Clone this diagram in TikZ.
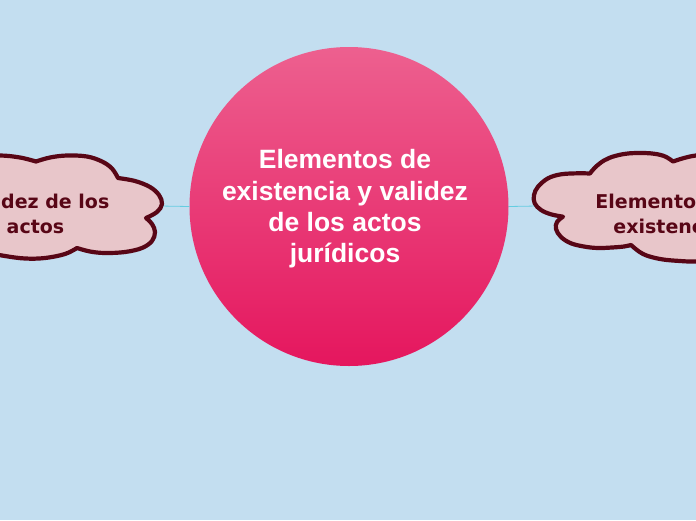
\documentclass[tikz,border=0pt]{standalone}
\usepackage{fontspec}
\setmainfont{Liberation Sans}
\newfontfamily\cloudfont{DejaVu Sans}
\usepackage{tikz}
\usetikzlibrary{calc}
\definecolor{bgblue}{RGB}{195,222,240}
\definecolor{hubtop}{RGB}{237,96,143}
\definecolor{hubbot}{RGB}{229,22,94}
\definecolor{cloudfill}{RGB}{232,198,202}
\definecolor{cloudline}{RGB}{88,6,22}
\definecolor{linkcyan}{RGB}{100,205,225}
\tikzset{
  hub/.style={circle, minimum size=319pt, inner sep=0pt, top color=hubtop, bottom color=hubbot},
  hubtext/.style={text=white, align=center, font=\bfseries\fontsize{26.5}{31.3}\selectfont},
  cloudbox/.style={fill=cloudfill, draw=cloudline, line width=4.2pt, line join=round},
  cloudtext/.style={text=cloudline, align=center, font=\cloudfont\bfseries\fontsize{19}{25}\selectfont},
  link/.style={linkcyan, line width=0.8pt},
  puff/.style={smooth, tension=0.6}
}

\begin{document}
% y runs downwards: coordinates are pixels of the 696x520 frame
\begin{tikzpicture}[x=1pt,y=-1pt]
\fill[bgblue] (0,0) rectangle (696,520);
\useasboundingbox (0,0) rectangle (696,520);
\clip (0,0) rectangle (696,520);

\node[hub] (hub) at (349,206.5) {};
\node[hubtext] (title) at (345,209) {Elementos de\\existencia y validez\\de los actos\\jurídicos};
\coordinate (leftend) at (160,206);
\coordinate (rightend) at (537,206);
\foreach \side/\tip in {west/leftend, east/rightend} {
  \draw[link] (hub.\side) -- (\tip);
}

% left cloud
\draw[cloudbox] plot[puff] coordinates {(-45,163) (-25,157) (0,155.5) (20,157.5) (36,161.5)}
  -- plot[puff] coordinates {(36,161.5) (50,157.5) (67,155.5) (87,156.5) (102,161.5) (112,168.5) (118,178)}
  -- plot[puff] coordinates {(118,178) (135,181) (150,187) (159,195) (162,204) (157,212) (146,218)}
  -- plot[puff] coordinates {(146,218) (152,224) (155,232) (152,241) (142,248) (125,252) (105,253) (90,251.5) (77,248)}
  -- plot[puff] coordinates {(77,248) (65,254) (45,258) (25,258.5) (5,256) (-15,252) (-40,245)}
  -- (-90,205) -- cycle;
\node[cloudtext] (validez) at (35.5,213.5) {Validez de los\\actos};

% right cloud
\draw[cloudbox] plot[puff] coordinates {(590,173.5) (595,167.5) (604,160.5) (615,156) (630,153.3) (650,153.3) (664,156) (673,161.5)}
  -- plot[puff] coordinates {(673,161.5) (684,158) (696,155.5) (715,154) (740,158)}
  -- (780,205) -- (740,256)
  -- plot[puff] coordinates {(740,256) (720,260) (696,261.5) (680,261) (660,259) (643,254) (631,245)}
  -- plot[puff] coordinates {(631,245) (624,246.5) (612,247.5) (598,248) (585,246.7) (571,243.3) (561,237) (556,229) (557,222) (563,216.7)}
  -- plot[puff] coordinates {(563,216.7) (551,214.3) (541,210) (534.7,203.3) (534,195) (538,186.7) (548,178.3) (561,174.3) (578,173.3) (590,173.5)}
  -- cycle;
\node[cloudtext] (existencia) at (668,213.5) {Elementos de\\existencia};
\end{tikzpicture}
\end{document}
